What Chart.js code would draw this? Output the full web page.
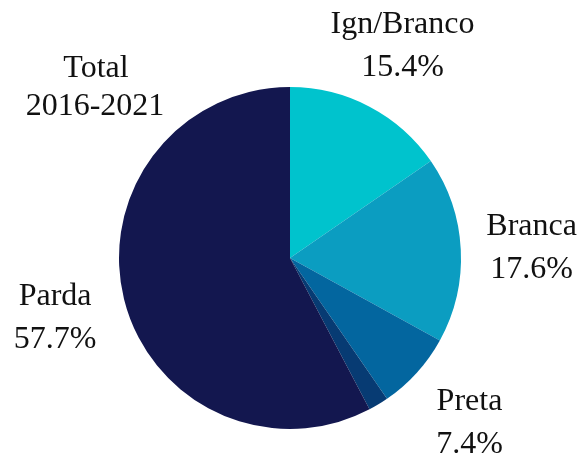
<!DOCTYPE html>
<html>
<head>
<meta charset="utf-8">
<script src="https://cdn.jsdelivr.net/npm/chart.js@4"></script>
<style>
  html, body { margin: 0; padding: 0; background: #fff; }
  #wrap { width: 582px; height: 461px; }
</style>
</head>
<body>
<div id="wrap"><canvas id="pieChart"></canvas></div>
<script>
// Data
const categories = ["Ign/Branco", "Branca", "Preta", "Amarela/Indígena", "Parda"];
const shares = [15.4, 17.6, 7.4, 1.9, 57.7];
const showLabel = [true, true, true, false, true];
const sliceColors = ["#00c3cd", "#0b9dc1", "#03669f", "#073b73", "#13174f"];
const titleLines = ["Total", "2016-2021"];

const FONT = '32px "Liberation Serif", "Times New Roman", serif';

// Outside labels, placed along each slice's middle angle
const outsideLabels = {
  id: "outsideLabels",
  afterDraw(chart) {
    const ctx = chart.ctx;
    const arcs = chart.getDatasetMeta(0).data;
    ctx.save();
    ctx.font = FONT;
    ctx.fillStyle = "#111";
    ctx.textAlign = "center";
    ctx.textBaseline = "alphabetic";

    arcs.forEach((arc, i) => {
      if (!showLabel[i]) return;
      const mid = (arc.startAngle + arc.endAngle) / 2;
      const dist = arc.outerRadius * 1.415;
      const cx = arc.x + Math.cos(mid) * dist;
      const cy = arc.y + Math.sin(mid) * dist;
      ctx.fillText(categories[i], cx, cy - 10.5);
      ctx.fillText(shares[i].toFixed(1) + "%", cx, cy + 32.5);
    });

    // "Total 2016-2021" caption in the top-left corner
    ctx.fillText(titleLines[0], 96, 77);
    ctx.fillText(titleLines[1], 95, 115);
    ctx.restore();
  },
};

const pieCtx = document.getElementById("pieChart").getContext("2d");
const pieChart = new Chart(pieCtx, {
  type: "pie",
  data: {
    labels: categories,
    datasets: [
      {
        data: shares,
        backgroundColor: sliceColors,
        borderWidth: 0,
      },
    ],
  },
  options: {
    responsive: true,
    maintainAspectRatio: false,
    animation: false,
    layout: {
      padding: { left: 119, right: 121, top: 87, bottom: 32 },
    },
    plugins: {
      legend: { display: false },
      tooltip: { enabled: false },
    },
  },
  plugins: [outsideLabels],
});
</script>
</body>
</html>
